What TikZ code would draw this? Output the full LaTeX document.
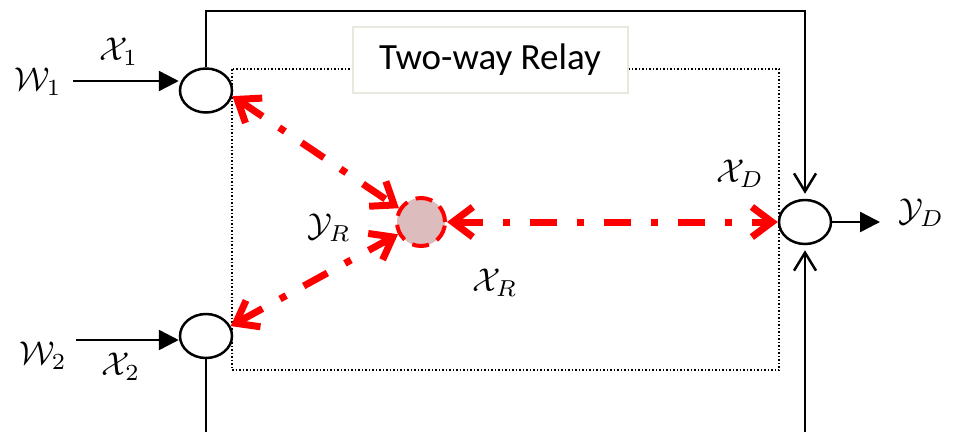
\documentclass[tikz,border=0pt]{standalone}
\usepackage{graphicx}
\usepackage{fontspec}
\newfontfamily\calib{Carlito}
\usetikzlibrary{arrows.meta,shapes.geometric}
\newcommand{\biglbl}[1]{\scalebox{3.3}{$#1$}}
\begin{document}
\begin{tikzpicture}[x=1pt,y=-1pt,
  term/.style={ellipse,draw,line width=2.5pt,minimum width=52pt,minimum height=44pt,inner sep=0pt,fill=white},
  relaynode/.style={circle,minimum size=48pt,inner sep=0pt,fill={rgb,255:red,220;green,188;blue,188},
     draw=red,line width=4pt,dash pattern=on 17pt off 9pt},
  lbl/.style={inner sep=0pt},
  wire/.style={line width=2.5pt},
  intip/.style={-{Triangle[length=20pt,width=20pt]}},
  opentip/.style={-{Straight Barb[length=18pt,width=22pt,line width=2.5pt]}},
  rly/.style={draw=red,line width=7pt,dash pattern=on 27pt off 20pt on 7pt off 20pt,
     {Straight Barb[length=20pt,width=30pt]}-{Straight Barb[length=20pt,width=30pt]}},
  dotbox/.style={draw,line width=1.5pt,dash pattern=on 1.5pt off 2pt},
  titlebox/.style={draw={rgb,255:red,232;green,232;blue,222},line width=2pt,fill=white,
     minimum width=275pt,minimum height=66pt,inner sep=0pt,font=\calib\fontsize{37}{40}\selectfont}
]
\useasboundingbox (0,0) rectangle (955,432);
\draw[dotbox] (232,69) rectangle (779,370);
\node[titlebox] (title) at (490,60) {Two-way Relay};

\node[term] (n1) at (206,90.5) {};
\node[term] (n2) at (206,336) {};
\node[term] (nD) at (805,222) {};
\node[relaynode] (relay) at (421,222) {};

% outer wires
\coordinate (tr) at (805,11);
\draw[wire,opentip,shorten >=5pt] (n1.north) |- (tr) -- (nD.north);
\coordinate (b2) at (206,432);
\draw[wire] (n2.south) -- (b2);
\coordinate (bD) at (805,432);
\draw[wire,opentip,shorten >=5pt] (bD) -- (nD.south);

% inputs and output
\coordinate (i1) at (73,81);
\draw[wire,intip] (i1) -- (i1 -| n1.west);
\coordinate (i2) at (76,340);
\draw[wire,intip] (i2) -- (i2 -| n2.west);
\coordinate (oD) at (880,222);
\draw[wire,intip] (nD.east) -- (oD);

% relay links
\draw[rly] (n1.-12) -- (relay.148);
\draw[rly] (n2.22) -- (relay.208);
\draw[rly] (relay.east) -- (nD.west);

% labels
\node[lbl] (W1) at (38,82) {\biglbl{\mathcal{W}_1}};
\node[lbl] (X1) at (119,52) {\biglbl{\mathcal{X}_1}};
\node[lbl] (W2) at (43,356) {\biglbl{\mathcal{W}_2}};
\node[lbl] (X2) at (121,367) {\biglbl{\mathcal{X}_2}};
\node[lbl] (XD) at (740,174) {\biglbl{\mathcal{X}_D}};
\node[lbl] (YD) at (921,213) {\biglbl{\mathcal{Y}_D}};
\node[lbl] (YR) at (329,228) {\biglbl{\mathcal{Y}_R}};
\node[lbl] (XR) at (495,283) {\biglbl{\mathcal{X}_R}};
\end{tikzpicture}
\end{document}
